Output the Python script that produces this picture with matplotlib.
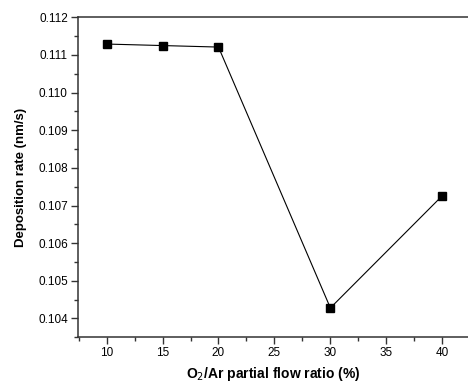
import numpy as np
import matplotlib.pyplot as plt
from matplotlib.ticker import MultipleLocator

plt.rcParams['font.family'] = ['Liberation Sans', 'DejaVu Sans']

# O2/Ar partial flow ratio (%) and deposition rate (nm/s)
ratio = [10, 15, 20, 30, 40]
rate = [0.11129, 0.11125, 0.11121, 0.10428, 0.10726]

fig = plt.figure(figsize=(4.68, 3.85), dpi=100)
ax = fig.add_axes([0.1656, 0.1239, 0.8344, 0.8311])

ax.plot(ratio, rate, color='black', lw=0.8, marker='s', ms=5.5,
        mfc='black', mec='black')

ax.set_xlim(7.4, 42.3)
ax.set_ylim(0.1035, 0.112)
ax.xaxis.set_major_locator(MultipleLocator(5))
ax.xaxis.set_minor_locator(MultipleLocator(2.5))
ax.yaxis.set_major_locator(MultipleLocator(0.001))
ax.yaxis.set_minor_locator(MultipleLocator(0.0005))
ax.yaxis.set_major_formatter(plt.FormatStrFormatter('%.3f'))

ax.spines['right'].set_visible(False)
for s in ['left', 'bottom', 'top']:
    ax.spines[s].set_linewidth(1.1)
    ax.spines[s].set_color('#333333')

ax.tick_params(which='both', direction='out', top=False, right=False,
               color='#333333', labelsize=8.5, width=1.0)
ax.tick_params(which='major', length=5, pad=2)
ax.tick_params(which='minor', length=3)

ax.set_xlabel('O$_2$/Ar partial flow ratio (%)', fontsize=10,
              fontweight='bold', labelpad=4)
ax.set_ylabel('Deposition rate (nm/s)', fontsize=9.5,
              fontweight='bold', labelpad=8)

fig.savefig('out.png', dpi=100)
